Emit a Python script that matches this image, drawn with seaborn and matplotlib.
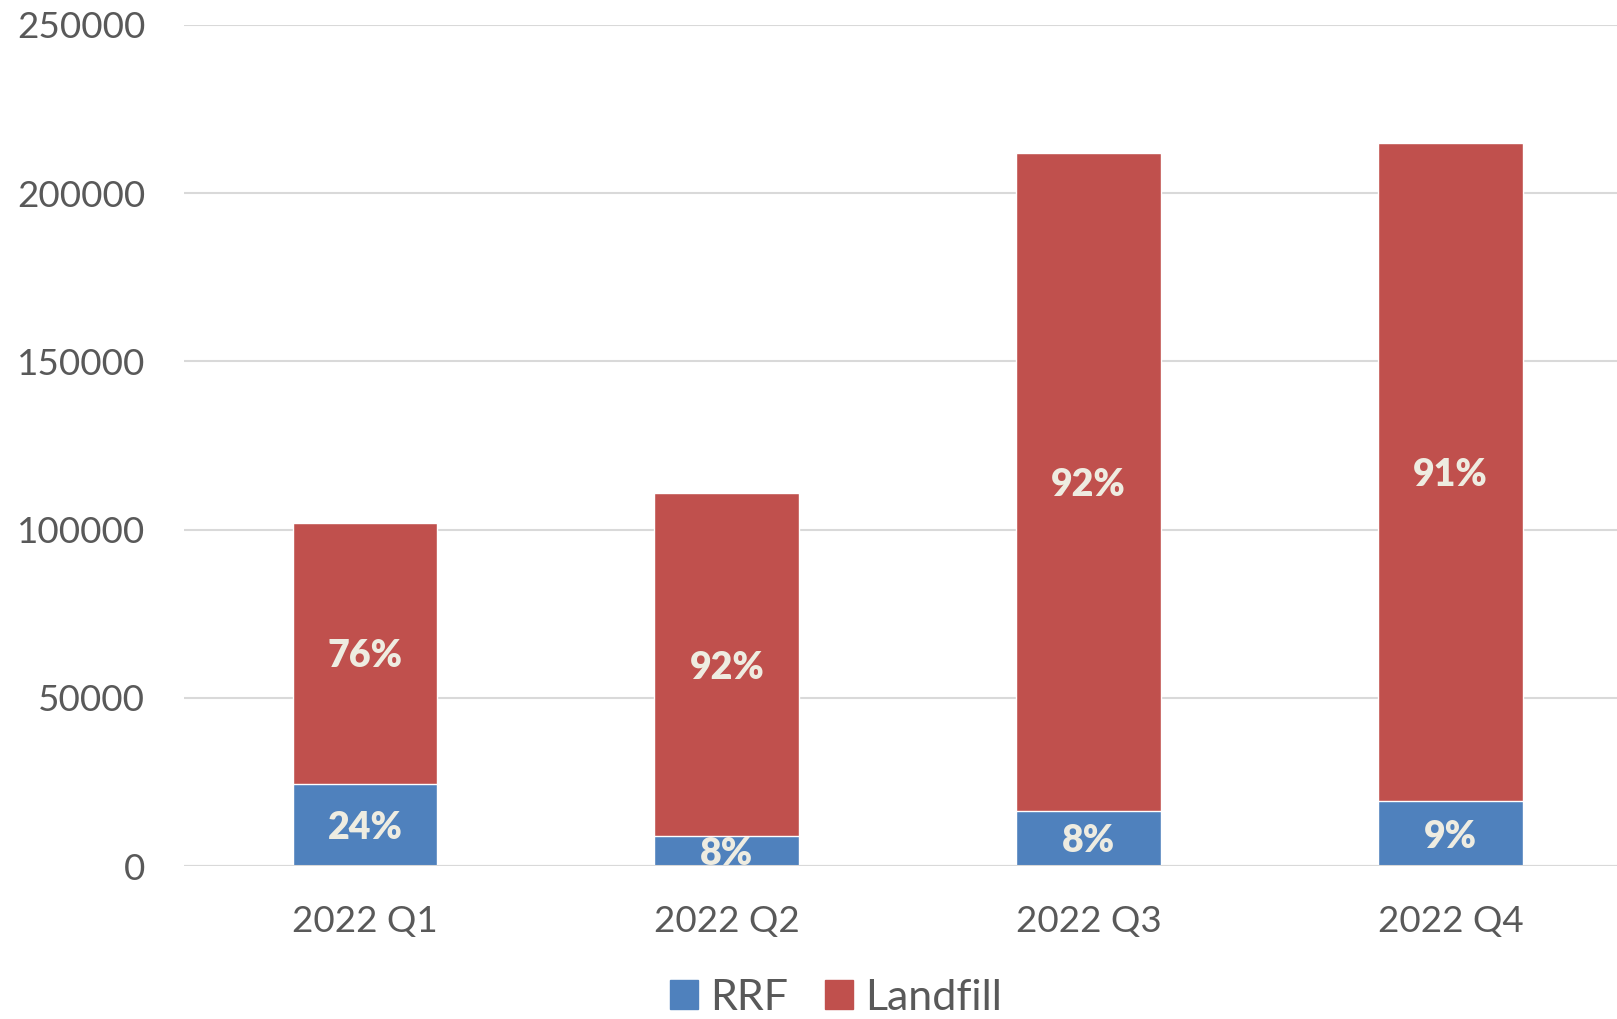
import pandas as pd
import seaborn as sns
import matplotlib.pyplot as plt
from matplotlib.patches import Patch

quarters = ['2022 Q1', '2022 Q2', '2022 Q3', '2022 Q4']
rrf = [24500, 8900, 16500, 19300]
landfill = [77500, 102000, 195500, 195500]
y_ticks = [0, 50000, 100000, 150000, 200000, 250000]

BLUE = '#4F81BD'
RED = '#C0504D'
LABEL = '#EEECE1'
GREY = '#595959'

sns.set_style('white')
plt.rcParams['font.family'] = ['Lato', 'DejaVu Sans']

df = pd.DataFrame({'quarter': quarters, 'RRF': rrf, 'Landfill': landfill})
df['total'] = df['RRF'] + df['Landfill']

fig = plt.figure(figsize=(16.17, 10.19), dpi=100)
ax = fig.add_axes([0.1138, 0.150, 0.8862, 0.8255])

# stacked: full total in red, then RRF part in blue on top of it
sns.barplot(data=df, x='quarter', y='total', color=RED, width=0.4,
            saturation=1, ax=ax, zorder=2)
sns.barplot(data=df, x='quarter', y='RRF', color=BLUE, width=0.4,
            saturation=1, ax=ax, zorder=3)

for i, row in df.iterrows():
    p_rrf = row['RRF'] / row['total'] * 100
    p_lf = row['Landfill'] / row['total'] * 100
    ax.text(i, row['RRF'] / 2, f'{p_rrf:.0f}%', ha='center', va='center_baseline',
            color=LABEL, fontsize=27, fontweight='heavy', zorder=4)
    ax.text(i, row['RRF'] + row['Landfill'] / 2, f'{p_lf:.0f}%', ha='center',
            va='center_baseline', color=LABEL, fontsize=27, fontweight='heavy', zorder=4)

ax.set_ylim(0, 250000)
ax.set_xlim(-0.5, 3.46)
ax.set_yticks(y_ticks)
ax.set_yticklabels([str(v) for v in y_ticks])
ax.yaxis.grid(True, color='#D9D9D9', linewidth=1.5, zorder=0)
ax.set_axisbelow(True)
for s in ax.spines.values():
    s.set_visible(False)
ax.axhline(0, color='#D9D9D9', linewidth=1.5, zorder=5)
ax.tick_params(axis='both', length=0, labelsize=26.5, labelcolor=GREY)
ax.tick_params(axis='y', pad=28)
ax.tick_params(axis='x', pad=28)
ax.set_xlabel('')
ax.set_ylabel('')

handles = [Patch(color=BLUE, label='RRF'), Patch(color=RED, label='Landfill')]
fig.legend(handles=handles, loc='center', bbox_to_anchor=(0.517, 0.021),
           ncol=2, frameon=False, fontsize=31, labelcolor=GREY,
           handlelength=0.65, handleheight=0.65, handletextpad=0.29,
           columnspacing=0.86)

fig.savefig('out.png', dpi=100)
